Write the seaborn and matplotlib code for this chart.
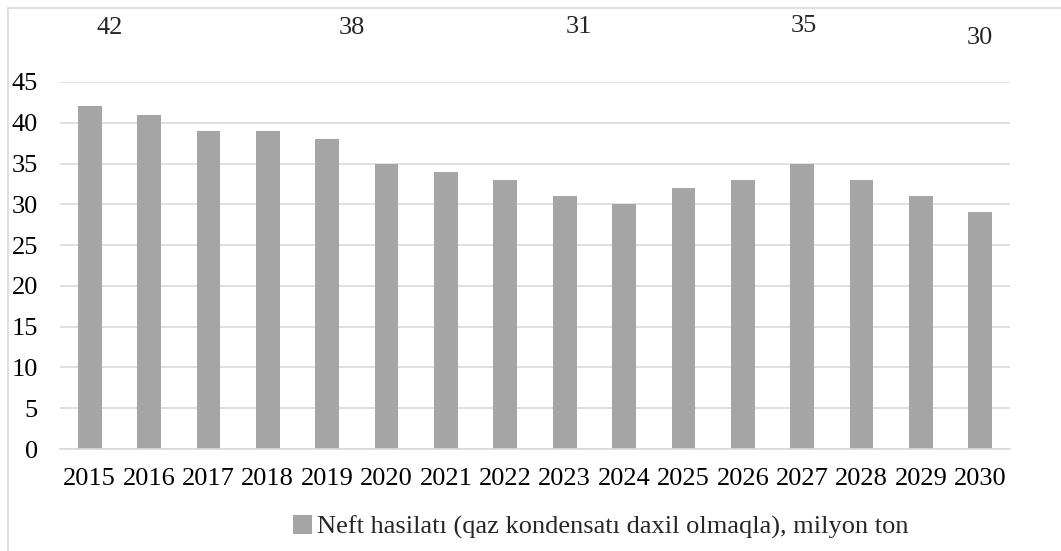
import matplotlib
matplotlib.use("Agg")
import matplotlib.pyplot as plt
import seaborn as sns
import pandas as pd
from matplotlib.patches import Patch
from matplotlib.lines import Line2D

years = ["2015", "2016", "2017", "2018", "2019", "2020", "2021", "2022",
         "2023", "2024", "2025", "2026", "2027", "2028", "2029", "2030"]
production = [42, 41, 39, 39, 38, 35, 34, 33, 31, 30, 32, 33, 35, 33, 31, 29]
series_name = "Neft hasilatı (qaz kondensatı daxil olmaqla), milyon ton"
top_labels = ["42", "38", "31", "35", "30"]
yticks = [0, 5, 10, 15, 20, 25, 30, 35, 40, 45]

sns.set_style("white")
plt.rcParams["font.family"] = ["Liberation Serif", "DejaVu Serif"]

W, H = 1061, 551
fig = plt.figure(figsize=(W / 100, H / 100), dpi=100)
ax = fig.add_axes([60 / W, 1 - 449 / H, 950 / W, (449 - 82) / H])

df = pd.DataFrame({"Year": years, "Value": production})
sns.barplot(data=df, x="Year", y="Value", color="#a5a5a5", width=0.4,
            saturation=1, ax=ax, zorder=3, linewidth=0, edgecolor="none")

grid_c = "#d9d9d9"
ax.set_ylim(0, 45)
ax.set_xlim(-0.5, len(years) - 0.5)
ax.set_yticks(yticks)
ax.yaxis.grid(True, color=grid_c, linewidth=1.2, zorder=0)
ax.set_axisbelow(True)
for s in ["top", "right", "left"]:
    ax.spines[s].set_visible(False)
ax.spines["bottom"].set_color(grid_c)
ax.spines["bottom"].set_linewidth(1.2)
ax.spines["bottom"].set_zorder(4)
ax.set_xlabel("")
ax.set_ylabel("")

ax.tick_params(axis="x", which="major", length=0, pad=14, labelsize=19, colors="black")
ax.set_xticks([i - 0.5 for i in range(len(years) + 1)], minor=True)
ax.tick_params(axis="x", which="minor", length=7, width=1.2, color=grid_c, direction="out")
ax.tick_params(axis="y", length=0, pad=16, labelsize=19, colors="black")

# top annotations (text boxes in the original)
label_pos = [(110, 28), (352, 28), (579, 27), (804, 26), (980, 38)]
for t, (px, py) in zip(top_labels, label_pos):
    fig.text(px / W, 1 - py / H, t, fontsize=19, ha="center", va="center")

# chart frame (partially visible)
fig.add_artist(Line2D([8 / W, 8 / W], [0, 1 - 8 / H], color=grid_c, linewidth=1.2))
fig.add_artist(Line2D([8 / W, 1], [1 - 8 / H, 1 - 8 / H], color=grid_c, linewidth=1.2))

handle = Patch(facecolor="#a5a5a5", edgecolor="none")
fig.legend([handle], [series_name], loc="center", bbox_to_anchor=(601 / W, 1 - 527 / H),
           frameon=False, fontsize=19, handlelength=0.7, handleheight=0.7,
           handletextpad=0.2, borderpad=0)

fig.savefig("out.png", dpi=100)
